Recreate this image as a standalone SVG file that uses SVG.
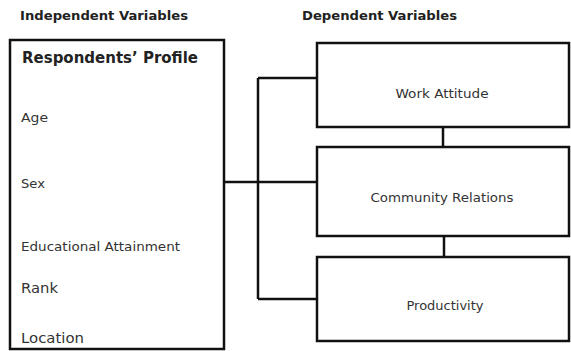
<svg xmlns="http://www.w3.org/2000/svg" width="571" height="351" viewBox="0 0 571 351">
<style>
.box{fill:#fff;stroke:#111;stroke-width:2.5}
.ln{fill:none;stroke:#111;stroke-width:2.5}
.h{font-family:"DejaVu Sans",Verdana,sans-serif;font-weight:bold;font-size:12.5px;fill:#222}
.t{font-family:"DejaVu Sans",Verdana,sans-serif;font-size:12.5px;fill:#333}
.c{font-family:"DejaVu Sans",Verdana,sans-serif;font-size:12.5px;fill:#333;text-anchor:middle}
</style>
<rect width="571" height="351" fill="#fff"/>
<text class="h" x="20" y="20" textLength="168" lengthAdjust="spacingAndGlyphs">Independent Variables</text>
<text class="h" x="302" y="20" textLength="155" lengthAdjust="spacingAndGlyphs">Dependent Variables</text>
<g id="connectors">
<path class="ln" d="M224 182H317M258 78V299M258 78H317M258 299H317M443 127V147M444 236V257"/>
</g>
<g id="profile">
<rect class="box" x="10" y="40" width="214" height="309"/>
<text class="h" x="22" y="63" style="font-size:15px" textLength="176" lengthAdjust="spacingAndGlyphs">Respondents’ Profile</text>
<text class="t" x="21" y="122" textLength="27" lengthAdjust="spacingAndGlyphs">Age</text>
<text class="t" x="21" y="188" textLength="24" lengthAdjust="spacingAndGlyphs">Sex</text>
<text class="t" x="21" y="251" textLength="159" lengthAdjust="spacingAndGlyphs">Educational Attainment</text>
<text class="t" x="21" y="293" style="font-size:14.5px" textLength="37" lengthAdjust="spacingAndGlyphs">Rank</text>
<text class="t" x="21" y="343" style="font-size:14.5px" textLength="63" lengthAdjust="spacingAndGlyphs">Location</text>
</g>
<g id="work">
<rect class="box" x="317" y="43" width="252" height="84"/>
<text class="c" x="442" y="98" textLength="93" lengthAdjust="spacingAndGlyphs">Work Attitude</text>
</g>
<g id="community">
<rect class="box" x="317" y="147" width="252" height="89"/>
<text class="c" x="442" y="202" textLength="143" lengthAdjust="spacingAndGlyphs">Community Relations</text>
</g>
<g id="productivity">
<rect class="box" x="317" y="257" width="252" height="84"/>
<text class="c" x="445" y="310" textLength="77" lengthAdjust="spacingAndGlyphs">Productivity</text>
</g>
</svg>
